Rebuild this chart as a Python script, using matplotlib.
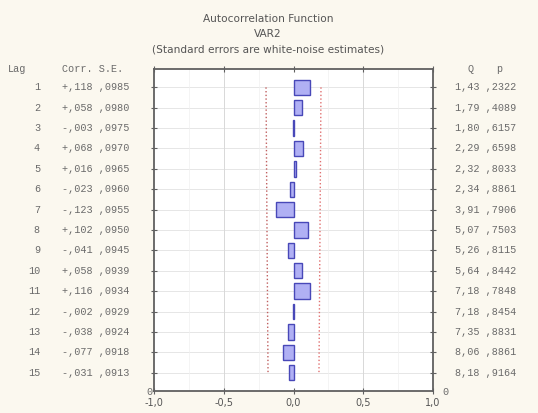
import matplotlib
matplotlib.use("Agg")
import matplotlib.pyplot as plt
import matplotlib.transforms as mtransforms
import numpy as np

# ---- data ----
lags = [1, 2, 3, 4, 5, 6, 7, 8, 9, 10, 11, 12, 13, 14, 15]
corr = [0.118, 0.058, -0.003, 0.068, 0.016, -0.023, -0.123, 0.102,
        -0.041, 0.058, 0.116, -0.002, -0.038, -0.077, -0.031]
se = [0.0985, 0.0980, 0.0975, 0.0970, 0.0965, 0.0960, 0.0955, 0.0950,
      0.0945, 0.0939, 0.0934, 0.0929, 0.0924, 0.0918, 0.0913]
q_stat = [1.43, 1.79, 1.80, 2.29, 2.32, 2.34, 3.91, 5.07,
          5.26, 5.64, 7.18, 7.18, 7.35, 8.06, 8.18]
p_val = [0.2322, 0.4089, 0.6157, 0.6598, 0.8033, 0.8861, 0.7906, 0.7503,
         0.8115, 0.8442, 0.7848, 0.8454, 0.8831, 0.8861, 0.9164]
x_ticks = [-1.0, -0.5, 0.0, 0.5, 1.0]
x_tick_labels = ["-1,0", "-0,5", "0,0", "0,5", "1,0"]
title_lines = ["Autocorrelation Function", "VAR2",
               "(Standard errors are white-noise estimates)"]


def fmt_signed(v):
    s = f"{abs(v):.3f}"[1:].replace(".", ",")
    return ("+" if v >= 0 else "-") + s


def fmt_unsigned4(v):
    return f"{v:.4f}"[1:].replace(".", ",")


W, H = 538, 413
fig = plt.figure(figsize=(W / 100, H / 100), dpi=100)
fig.patch.set_facecolor("#fbf8ef")

left, right, top, bottom = 154, 433, 69, 391
ax = fig.add_axes([left / W, 1 - bottom / H, (right - left) / W, (bottom - top) / H])
ax.set_facecolor("white")
ax.set_xlim(-1.0, 1.0)
ax.set_ylim(15.9, 0.1)

# grid
for lg in lags:
    ax.axhline(lg, color="#e2e2e2", lw=0.6, zorder=0)
for xv in [-0.5, 0.5]:
    ax.axvline(xv, color="#d8d8d8", lw=0.7, zorder=0)
for xv in [-0.75, -0.25, 0.25, 0.75]:
    ax.axvline(xv, color="#f0f0f0", lw=0.5, zorder=0)

# bars
ax.barh(lags, corr, height=0.75, left=0, color="#b0b0f4",
        edgecolor="#4848b8", linewidth=1.0, zorder=3)

# confidence limits (2 * S.E.)
se_arr = np.array(se)
ax.plot(2 * se_arr, lags, linestyle=":", color="#e07070", lw=1.0, zorder=2)
ax.plot(-2 * se_arr, lags, linestyle=":", color="#c06060", lw=1.0, zorder=2)

for sp in ax.spines.values():
    sp.set_color("#606060")
    sp.set_linewidth(1.3)

ax.set_xticks(x_ticks)
ax.set_xticklabels(x_tick_labels)
ax.tick_params(axis="x", colors="#606060", labelcolor="#555555", labelsize=7,
               direction="inout", length=4, top=True, labeltop=False, pad=3)
ax.set_yticks(lags)
ax.tick_params(axis="y", colors="#606060", direction="inout", length=4,
               left=True, right=True, labelleft=False, labelright=False)

# titles
tcol = "#555555"
for i, line in enumerate(title_lines):
    fig.text(268 / W, 1 - (19 + i * 15) / H, line, ha="center", va="center",
             fontsize=7.6, color=tcol, family="DejaVu Sans")

# table text
trans = mtransforms.blended_transform_factory(fig.transFigure, ax.transData)
mono = dict(family="Liberation Mono", fontsize=7.3, color="#6a6a6a", va="center")
fig.text(8 / W, 1 - 69 / H, "Lag", **mono)
fig.text(62 / W, 1 - 69 / H, "Corr. S.E.", **mono)
fig.text(467 / W, 1 - 69 / H, "Q", **mono)
fig.text(496 / W, 1 - 69 / H, "p", **mono)
for lg, c, s, q, p in zip(lags, corr, se, q_stat, p_val):
    fig.text(40 / W, lg, str(lg), transform=trans, ha="right", **mono)
    fig.text(62 / W, lg, f"{fmt_signed(c)} {fmt_unsigned4(s)}",
             transform=trans, ha="left", **mono)
    qs = f"{q:.2f}".replace(".", ",")
    fig.text(455 / W, lg, f"{qs} {fmt_unsigned4(p)}", transform=trans,
             ha="left", **mono)

fig.text(146 / W, 1 - 392 / H, "0", **mono)
fig.text(442 / W, 1 - 392 / H, "0", **mono)

fig.savefig("out.png", dpi=100, facecolor=fig.get_facecolor())
